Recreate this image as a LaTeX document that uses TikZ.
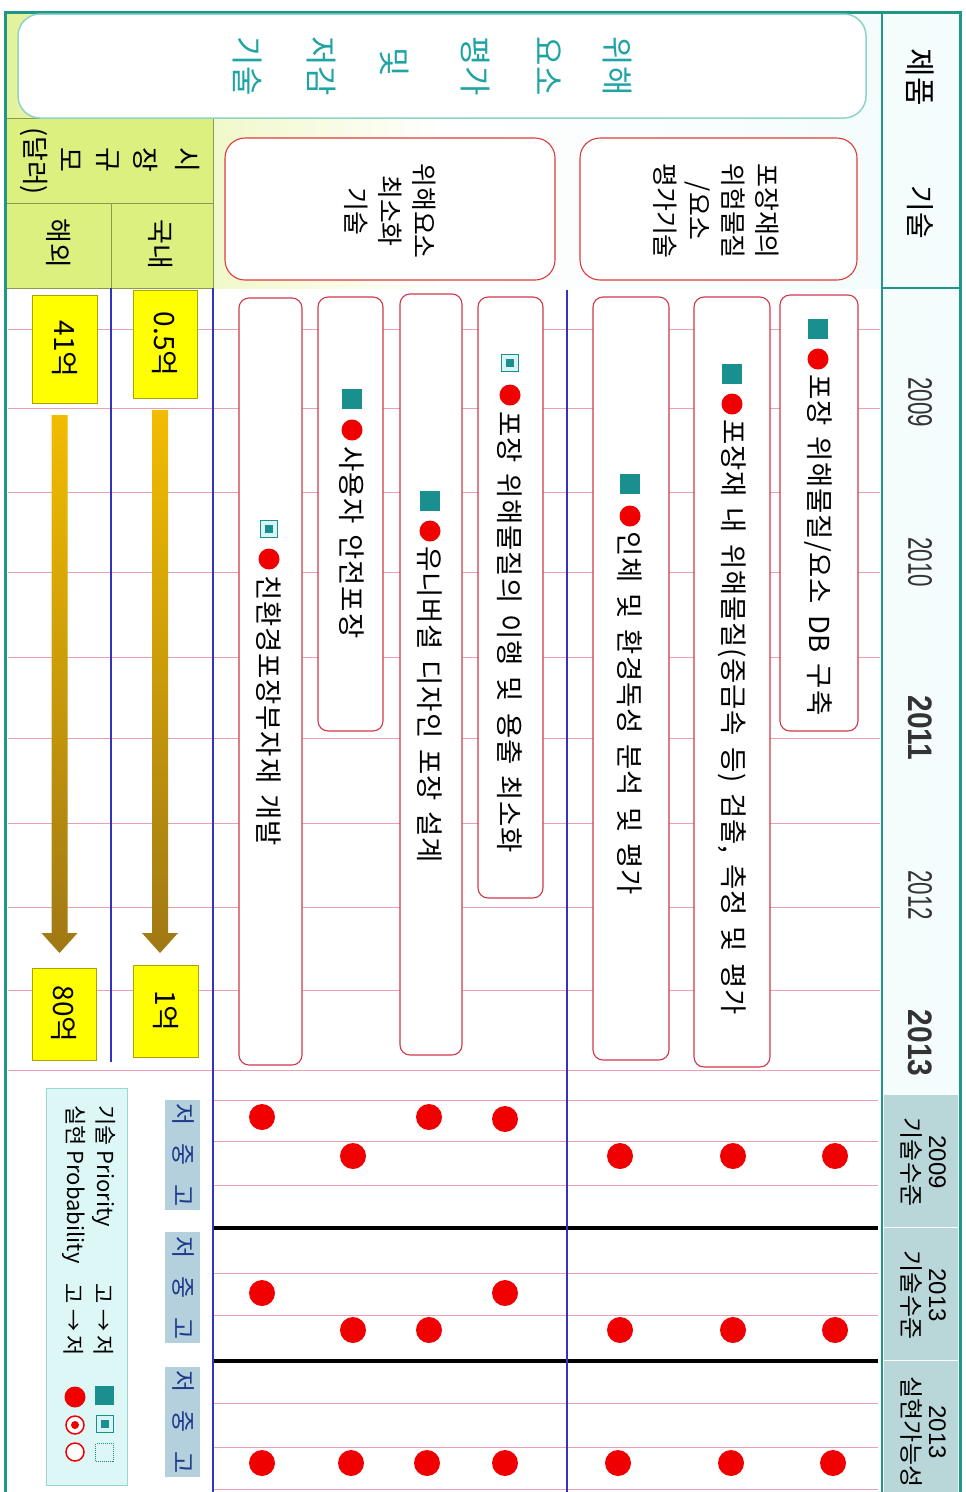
\documentclass[tikz,border=0pt]{standalone}
\usepackage{fontspec}
\setmainfont{Noto Sans CJK KR}
\newfontfamily\lat{Liberation Sans}
\usetikzlibrary{calc}
\newcommand\wsp{\hspace{0.4em}}
\definecolor{frameteal}{HTML}{1E9688}
\definecolor{titleteal}{HTML}{1FA3A3}
\definecolor{boxteal}{HTML}{8CD4C8}
\definecolor{catred}{HTML}{E03A3A}
\definecolor{barred}{HTML}{D0384A}
\definecolor{gridpink}{HTML}{E8A0B2}
\definecolor{lineblue}{HTML}{3333BB}
\definecolor{sqteal}{HTML}{1A8F8F}
\definecolor{dotred}{HTML}{F00000}
\definecolor{mktgreen}{HTML}{DCF080}
\definecolor{mktline}{HTML}{8C9A50}
\definecolor{hdrgray}{HTML}{B9D6D8}
\definecolor{lvlblue}{HTML}{1E3A8A}
\definecolor{lvlbg}{HTML}{B4D0DC}
\definecolor{legbg}{HTML}{DDF7F7}
\definecolor{legline}{HTML}{96D8CC}
\definecolor{ygold}{HTML}{FFFF00}
\definecolor{yedge}{HTML}{B0A000}
\definecolor{arrtop}{HTML}{F2BC00}
\definecolor{arrbot}{HTML}{A07814}
\definecolor{lightsq}{HTML}{D8F4F4}
\definecolor{hdrbg}{HTML}{F4FCFC}
\begin{document}
\begin{tikzpicture}[x=1pt,y=-1pt,
  rt/.style={rotate=-90, inner sep=0pt},
  bartxt/.style={rt, anchor=west, font=\fontsize{27.5}{27.5}\selectfont\addfontfeatures{LetterSpace=3}},
  barbox/.style={draw=barred, line width=1.1pt, fill=white, rounded corners=10pt, inner sep=0pt},
  catbox/.style={draw=catred, line width=1.1pt, fill=white, rounded corners=20pt, inner sep=0pt},
  gridln/.style={draw=gridpink, line width=0.9pt},
  blueln/.style={draw=lineblue, line width=1.2pt},
  tsq/.style={rectangle, fill=sqteal, minimum size=20pt, inner sep=0pt},
  lsq/.style={rectangle, draw=sqteal, line width=1pt, fill=lightsq, minimum size=17pt, inner sep=0pt,
     path picture={\fill[sqteal] ($(path picture bounding box.center)+(-4,-4)$) rectangle ($(path picture bounding box.center)+(4,4)$);}},
  osq/.style={rectangle, draw=sqteal, line width=1pt, densely dotted, minimum size=18pt, inner sep=0pt},
  rdot/.style={circle, fill=dotred, minimum size=21pt, inner sep=0pt},
  bigdot/.style={circle, fill=dotred, minimum size=26pt, inner sep=0pt},
  ybox/.style={draw=yedge, line width=0.8pt, fill=ygold, inner sep=0pt},
  lvl/.style={rt, text=lvlblue, font=\fontsize{24}{24}\selectfont},
  yr/.style={rt, font=\lat\fontsize{34}{34}\selectfont, text=black!80},
]
\useasboundingbox (0,0) rectangle (966,1492);
\fill[white] (0,0) rectangle (966,1492);
% top background gradient
\shade[left color=mktgreen!80, right color=hdrbg, middle color=white] (5,12) rectangle (882,288);
\fill[hdrbg] (882,12) rectangle (960,1492);
\fill[hdrgray] (884,1095) rectangle (958,1492);
\draw[white, line width=1pt] (884,1227) -- (958,1227) (884,1360) -- (958,1360);
% market cells
\fill[mktgreen] (5,118) rectangle (213,288);
\draw[mktline, line width=0.8pt] (5,118) -- (213,118) -- (213,288) -- (5,288)
  (5,203) -- (213,203) (111,203) -- (111,288);
% grid lines
\foreach \yy in {329,408,492,572,657,738,823,907,990,1070}
  \draw[gridln] (8,\yy) -- (880,\yy);
\foreach \yy in {1100,1141,1185,1273,1315,1403,1447,1489}
  \draw[gridln] (213,\yy) -- (878,\yy);
\draw[black, line width=3.5pt] (213,1228) -- (878,1228) (213,1361) -- (878,1361);
% blue lines
\draw[blueln] (213,288) -- (213,1492);
\draw[blueln] (567,290) -- (567,1492);
\draw[blueln] (111,288) -- (111,1062);
% frame
\draw[frameteal, line width=3pt] (5,1492) -- (5,12) -- (960,12) -- (960,1492);
\draw[frameteal, line width=2.5pt] (882,12) -- (882,1492);
\draw[frameteal, line width=2pt] (882,288) -- (960,288);
% header texts
\node[rt, font=\fontsize{31}{31}\selectfont] (h1) at (920,77) {제품};
\node[rt, font=\fontsize{29}{29}\selectfont] (h2) at (920,212) {기술};
\node[yr] (y09) at (920,402) {\scalebox{0.66}[1]{2009}};
\node[yr] (y10) at (920,562) {\scalebox{0.66}[1]{2010}};
\node[yr] (y11) at (920,728) {\bfseries\scalebox{0.88}[1]{2011}};
\node[yr] (y12) at (920,895) {\scalebox{0.66}[1]{2012}};
\node[yr] (y13) at (920,1043) {\bfseries\scalebox{0.88}[1]{2013}};
\node[rt, align=center, font=\fontsize{24}{27}\selectfont] (hs1) at (923,1162) {{\lat 2009}\\기술수준};
\node[rt, align=center, font=\fontsize{24}{27}\selectfont] (hs2) at (923,1295) {{\lat 2013}\\기술수준};
\node[rt, align=center, font=\fontsize{24}{27}\selectfont] (hs3) at (923,1432) {{\lat 2013}\\실현가능성};
% title box
\node[draw=boxteal, line width=1.5pt, fill=white, rounded corners=22pt, minimum width=848pt, minimum height=104pt] (title) at (442,66) {};
\foreach \w/\xx/\yy [count=\i] in {위해/617/66, 요소/549/66, 평가/475/66, 및/395/62, 저감/321/66, 기술/247/66}
  \node[rt, text=titleteal, font=\fontsize{32}{32}\selectfont] (tw\i) at (\xx,\yy) {\w};
% market labels
\foreach \w/\xx [count=\i] in {시/188, 장/146, 규/108, 모/71}
  \node[rt, font=\fontsize{27}{27}\selectfont] (mk\i) at (\xx,160) {\w};
\node[rt, font=\fontsize{27}{27}\selectfont] (mk5) at (34,161) {(달러)};
\node[rt, font=\fontsize{27}{27}\selectfont] (dom) at (161,244) {국내};
\node[rt, font=\fontsize{27}{27}\selectfont] (abr) at (59,243) {해외};
% category boxes
\node[catbox, minimum width=277pt, minimum height=142pt] (c1) at (718.5,209) {};
\node[rt, align=center, font=\fontsize{26}{34}\selectfont] (c1t) at (716,211) {포장재의\\위험물질\\/요소\\평가기술};
\node[catbox, minimum width=330pt, minimum height=142pt] (c2) at (390,209) {};
\node[rt, align=center, font=\fontsize{26}{34}\selectfont] (c2t) at (390,211) {위해요소\\최소화\\기술};
% bars
\node[barbox, minimum width=78pt, minimum height=436pt] (b1) at (819,513) {};
\node[barbox, minimum width=76pt, minimum height=770pt] (b2) at (732,682) {};
\node[barbox, minimum width=76pt, minimum height=763pt] (b3) at (631,678.5) {};
\node[barbox, minimum width=65pt, minimum height=601pt] (b4) at (510.5,597.5) {};
\node[barbox, minimum width=62pt, minimum height=761pt] (b5) at (431,674.5) {};
\node[barbox, minimum width=65pt, minimum height=434pt] (b6) at (350.5,514) {};
\node[barbox, minimum width=63pt, minimum height=767pt] (b7) at (270.5,681.5) {};
% bar icons and texts
\node[tsq] (s1) at (818,329) {}; \node[rdot] (r1) at (818,359) {};
\node[bartxt] (t1) at (818,374) {포장\wsp 위해물질/요소\wsp DB\wsp 구축};
\node[tsq] (s2) at (732,374) {}; \node[rdot] (r2) at (732,404) {};
\node[bartxt] (t2) at (732,419) {포장재\wsp 내\wsp 위해물질(중금속\wsp 등)\wsp 검출,\wsp 측정\wsp 및\wsp 평가};
\node[tsq] (s3) at (630,484) {}; \node[rdot] (r3) at (630,516) {};
\node[bartxt] (t3) at (630,531) {인체\wsp 및\wsp 환경독성\wsp 분석\wsp 및\wsp 평가};
\node[lsq] (s4) at (510,363) {}; \node[rdot] (r4) at (510,395) {};
\node[bartxt] (t4) at (510,411) {포장\wsp 위해물질의\wsp 이행\wsp 및\wsp 용출\wsp 최소화};
\node[tsq] (s5) at (430,501) {}; \node[rdot] (r5) at (430,531) {};
\node[bartxt] (t5) at (430,546) {유니버셜\wsp 디자인\wsp 포장\wsp 설계};
\node[tsq] (s6) at (352,399) {}; \node[rdot] (r6) at (352,430) {};
\node[bartxt] (t6) at (352,446) {사용자\wsp 안전포장};
\node[lsq] (s7) at (269,529) {}; \node[rdot] (r7) at (269,559) {};
\node[bartxt] (t7) at (269,575) {친환경포장부자재\wsp 개발};
% yellow value boxes
\node[ybox, minimum width=64pt, minimum height=108pt] (k1) at (165,344) {\rotatebox{-90}{\fontsize{28}{28}\selectfont 0.5억}};
\node[ybox, minimum width=65pt, minimum height=108pt] (g1) at (64.5,349) {\rotatebox{-90}{\fontsize{28}{28}\selectfont 41억}};
\node[ybox, minimum width=65pt, minimum height=92pt] (k2) at (165.5,1011) {\rotatebox{-90}{\fontsize{28}{28}\selectfont 1억}};
\node[ybox, minimum width=64pt, minimum height=92pt] (g2) at (64,1014) {\rotatebox{-90}{\fontsize{28}{28}\selectfont 80억}};
% growth arrows
\coordinate (ka) at (160,410); \coordinate (kb) at (160,953);
\coordinate (ga) at (59.5,415); \coordinate (gb) at (59.5,953);
\shade[top color=arrtop, bottom color=arrbot] ($(ka)+(-8,0)$) -- ($(ka)+(8,0)$) -- ($(kb)+(8,-20)$) -- ($(kb)+(18,-20)$) -- (kb) -- ($(kb)+(-18,-20)$) -- ($(kb)+(-8,-20)$) -- cycle;
\shade[top color=arrtop, bottom color=arrbot] ($(ga)+(-8,0)$) -- ($(ga)+(8,0)$) -- ($(gb)+(8,-20)$) -- ($(gb)+(18,-20)$) -- (gb) -- ($(gb)+(-18,-20)$) -- ($(gb)+(-8,-20)$) -- cycle;
% level strips
\foreach \ya/\yb/\yc [count=\i] in {1100/1210/1155, 1232/1343/1288, 1367/1477/1422} {
  \fill[lvlbg] (165,\ya) rectangle (200,\yb);
  \node[lvl] (lo\i) at (183,\yc-40) {저};
  \node[lvl] (mi\i) at (183,\yc) {중};
  \node[lvl] (hi\i) at (183,\yc+41) {고};
}
% level dots
\foreach \xx/\yy [count=\i] in {262/1117, 429/1117, 505/1119, 353/1156, 620/1156, 733/1156, 835/1156,
  262/1293, 505/1293, 353/1330, 429/1330, 620/1330, 733/1330, 835/1330,
  262/1463, 351/1463, 427/1463, 505/1463, 618/1463, 731/1463, 833/1463}
  \node[bigdot] (dt\i) at (\xx,\yy) {};
% legend
\node[draw=legline, line width=1pt, fill=legbg, minimum width=81pt, minimum height=397pt] (leg) at (86.5,1286.5) {};
\node[rt, anchor=west, font=\fontsize{22}{22}\selectfont] (lg1) at (104,1105) {기술 Priority};
\node[rt, font=\fontsize{22}{22}\selectfont] (lg2) at (104,1320) {고 → 저};
\node[rt, anchor=west, font=\fontsize{22}{22}\selectfont] (lg3) at (74,1105) {실현 Probability};
\node[rt, font=\fontsize{22}{22}\selectfont] (lg4) at (74,1320) {고 → 저};
\node[tsq, minimum size=19pt] (ls1) at (104.5,1395) {};
\node[lsq] (ls2) at (104.5,1424) {};
\node[osq] (ls3) at (104.5,1452.5) {};
\node[rdot] (lc1) at (75,1397) {};
\node[circle, draw=dotred, line width=1.5pt, fill=white, minimum size=18pt, inner sep=0pt] (lc2) at (75,1425) {};
\node[circle, fill=dotred, minimum size=8pt, inner sep=0pt] (lc2i) at (lc2.center) {};
\node[circle, draw=dotred, line width=1.5pt, fill=white, minimum size=18pt, inner sep=0pt] (lc3) at (75,1452) {};
\end{tikzpicture}
\end{document}
